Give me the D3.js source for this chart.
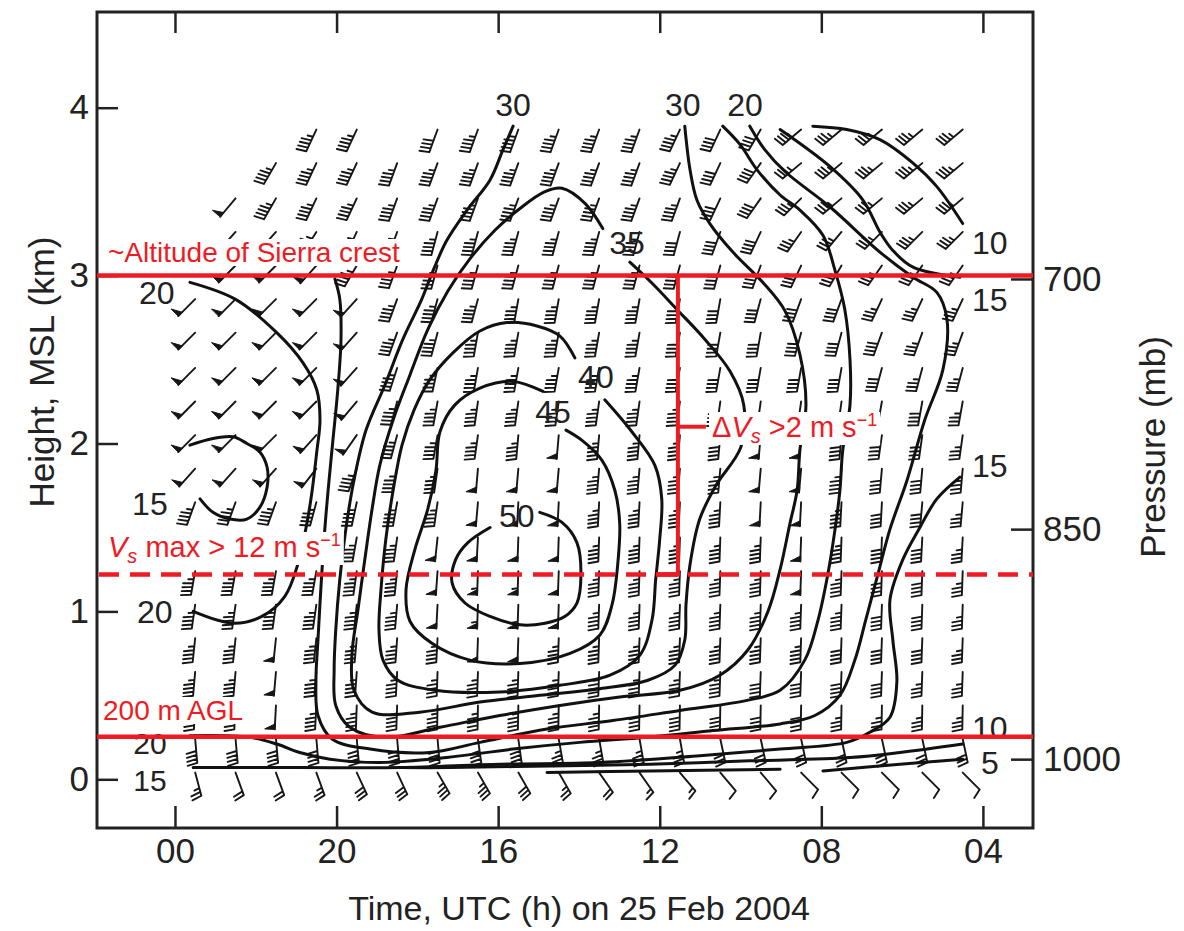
<!DOCTYPE html>
<html><head><meta charset="utf-8">
<script src="https://cdn.jsdelivr.net/npm/d3@7"></script>
<style>body{margin:0;background:#fff}svg{display:block}</style>
</head><body>
<svg id="c" width="1184" height="931"></svg>
<script>
// ---------- axes / ticks ----------
const timeTicks = [0, 4, 8, 12, 16, 20];            // hours before 00 UTC
const timeTickLabels = ["00", "20", "16", "12", "08", "04"];
const heightTicks = [0, 1, 2, 3, 4];                 // km MSL
const pressureTicks = [700, 850, 1000];              // mb
const pressureHeights = [2.98, 1.49, 0.12];          // km where pressure ticks sit

// ---------- wind barbs (knots, direction from) ----------
const barbHours = [0.5,1.5,2.5,3.5,4.5,5.5,6.5,7.5,8.5,9.5,10.5,11.5,12.5,13.5,14.5,15.5,16.5,17.5,18.5,19.5];
const barbHeights = [3.87,3.67,3.46,3.26,3.06,2.86,2.66,2.45,2.25,2.05,1.85,1.65,1.44,1.24,1.04,0.84,0.64,0.44,0.24,0.04];
const n = null;
const speedRows = [
 [n,n,n,45,45,n,40,45,45,45,45,45,45,40,40,35,35,35,35,35],
 [n,n,45,45,45,45,45,45,45,45,45,45,45,40,40,35,35,35,35,35],
 [n,50,45,45,45,45,45,45,45,45,45,45,45,40,40,35,35,35,35,35],
 [n,50,50,45,45,45,45,45,45,45,45,45,40,40,40,35,35,35,35,35],
 [n,50,50,50,45,45,45,45,45,45,45,45,40,40,40,40,35,35,35,35],
 [50,50,50,50,50,45,45,45,45,45,45,45,40,40,40,40,40,35,35,35],
 [50,50,50,50,50,45,45,45,45,45,45,45,40,40,40,40,40,40,35,35],
 [50,50,50,50,50,45,45,45,45,45,45,45,40,40,40,40,40,40,35,35],
 [50,50,50,50,50,45,45,45,45,45,45,45,45,40,40,40,40,40,40,35],
 [50,50,50,50,50,45,45,45,45,50,45,45,45,45,50,50,40,40,40,35],
 [50,50,50,50,45,45,45,50,50,50,45,45,45,45,50,50,45,40,40,35],
 [45,45,45,45,45,45,45,50,50,50,45,45,45,45,50,50,45,40,40,35],
 [45,45,45,45,45,45,50,50,50,50,45,45,45,45,45,50,45,40,40,35],
 [45,45,45,45,45,45,50,55,55,50,45,45,45,45,45,50,45,40,40,35],
 [45,45,45,45,45,45,50,55,55,50,45,45,45,45,45,45,45,40,40,35],
 [45,45,50,45,45,45,45,50,50,45,45,45,45,45,45,45,40,40,40,35],
 [45,45,50,45,45,45,45,45,45,45,45,45,45,45,40,40,40,40,35,35],
 [45,45,50,45,45,45,45,45,45,45,45,40,40,40,40,40,35,35,35,35],
 [40,40,40,40,40,40,40,40,40,35,35,35,35,30,30,30,30,30,30,30],
 [25,20,20,25,30,30,35,35,30,25,20,15,15,10,10,10,10,10,10,10]
];
const dirRows = [
 [n,n,n,205,205,n,200,200,200,200,200,200,205,205,210,230,230,230,230,230],
 [n,n,210,205,205,200,200,200,200,200,200,200,205,205,215,230,230,230,230,230],
 [n,220,210,205,205,200,200,200,200,200,200,200,200,205,215,225,230,230,230,230],
 [n,222,222,212,205,200,195,195,195,195,195,195,195,200,205,215,220,225,225,225],
 [n,225,225,222,210,200,195,195,195,195,195,195,195,195,200,205,210,215,215,215],
 [225,225,225,225,222,200,195,195,190,190,190,190,190,190,195,200,200,205,205,205],
 [225,225,225,225,222,200,195,190,190,190,190,190,190,190,190,195,195,200,200,200],
 [225,225,225,225,222,198,192,190,190,190,190,190,190,190,190,190,190,195,195,195],
 [225,225,225,225,220,195,190,188,188,188,188,188,188,188,188,188,188,190,190,190],
 [225,225,225,222,215,195,190,188,185,185,185,185,185,185,185,185,185,188,188,188],
 [222,222,222,218,200,192,188,185,185,185,185,185,185,185,185,185,185,185,185,185],
 [200,200,200,195,192,190,188,185,183,183,183,183,183,183,183,183,183,183,185,185],
 [195,195,195,192,190,188,186,183,182,182,182,182,182,182,182,182,182,182,183,183],
 [190,190,190,190,188,186,184,182,182,182,182,182,182,182,182,182,182,182,182,182],
 [188,188,188,188,186,185,183,182,182,182,182,182,182,182,182,182,182,182,182,182],
 [186,186,186,186,185,184,183,182,182,182,182,182,182,182,182,182,182,182,182,182],
 [185,185,185,185,184,183,182,182,182,182,182,182,182,182,182,182,182,182,182,182],
 [183,183,183,183,182,182,181,181,181,181,181,181,181,181,181,181,181,181,181,181],
 [175,175,175,175,175,175,175,172,172,170,170,170,170,168,168,168,168,168,168,168],
 [165,160,160,160,155,155,150,150,150,150,145,145,140,140,140,135,135,135,135,135]
];

// ---------- isotachs [hour, km] ----------
const c50 = [[9.03,1.59],[9.58,1.53],[9.95,1.41],[10.05,1.22],[9.95,1.05],[9.65,0.97],[9.16,0.93],[8.54,0.92],[7.80,0.97],[7.18,1.05],[6.86,1.17],[6.95,1.31],[7.25,1.41],[7.80,1.50]];
const c45 = [[9.11,2.31],[8.37,2.37],[7.55,2.33],[6.93,2.23],[6.56,2.07],[6.46,1.84],[6.26,1.61],[5.94,1.37],[5.72,1.13],[5.82,0.94],[6.36,0.81],[7.30,0.71],[8.54,0.69],[9.78,0.75],[10.52,0.86],[10.82,1.04],[10.96,1.28],[11.01,1.52],[10.89,1.72],[10.57,1.90],[10.07,2.02],[9.68,2.08]];
const c40 = [[9.90,2.51],[9.53,2.64],[8.96,2.70],[8.22,2.72],[7.55,2.67],[6.88,2.54],[6.31,2.38],[5.92,2.20],[5.62,1.99],[5.40,1.72],[5.22,1.43],[5.10,1.13],[5.05,0.89],[5.15,0.71],[5.52,0.59],[6.44,0.53],[8.04,0.52],[9.53,0.56],[10.77,0.62],[11.51,0.74],[11.81,0.95],[11.90,1.19],[12.00,1.43],[12.05,1.67],[11.88,1.87],[11.31,2.07],[10.64,2.26]];
const c35 = [[10.59,3.28],[10.15,3.43],[9.58,3.52],[9.16,3.50],[8.54,3.40],[7.92,3.27],[7.30,3.10],[6.76,2.91],[6.26,2.68],[5.82,2.41],[5.40,2.14],[5.07,1.87],[4.88,1.61],[4.70,1.31],[4.53,1.01],[4.38,0.74],[4.43,0.53],[4.88,0.40],[6.06,0.40],[7.55,0.46],[9.03,0.50],[10.52,0.54],[11.71,0.59],[12.38,0.68],[12.62,0.83],[12.65,1.04],[12.75,1.28],[12.99,1.55],[13.39,1.75],[14.01,1.98],[14.08,2.23],[13.74,2.43],[13.12,2.62],[12.42,2.80],[11.83,2.95],[11.26,3.08]];
const c30 = [[8.37,3.89],[8.12,3.75],[7.80,3.57],[7.23,3.39],[6.73,3.21],[6.39,3.03],[6.11,2.86],[5.64,2.62],[5.20,2.35],[4.73,2.08],[4.43,1.78],[4.23,1.49],[4.08,1.19],[3.98,0.89],[3.94,0.65],[3.98,0.44],[4.33,0.31],[5.20,0.25],[6.56,0.31],[8.04,0.38],[9.53,0.44],[11.01,0.49],[12.50,0.53],[13.49,0.62],[14.18,0.77],[14.68,1.00],[14.98,1.25],[15.22,1.52],[15.40,1.72],[15.47,1.96],[15.62,2.23],[15.47,2.53],[15.10,2.79],[14.55,2.96],[13.81,3.14],[13.24,3.31],[12.92,3.45],[12.75,3.63],[12.62,3.89]];
const c25 = [[3.96,2.98],[4.08,2.86],[4.11,2.62],[4.03,2.32],[3.91,2.02],[3.79,1.72],[3.69,1.43],[3.61,1.13],[3.54,0.83],[3.49,0.59],[3.54,0.38],[3.89,0.24],[4.83,0.18],[6.31,0.16],[7.55,0.22],[9.21,0.30],[10.84,0.35],[12.50,0.41],[14.16,0.47],[14.98,0.53],[15.59,0.71],[15.92,0.95],[16.16,1.22],[16.34,1.49],[16.46,1.72],[16.53,1.96],[16.71,2.23],[16.71,2.50],[16.58,2.80],[16.34,3.03],[16.04,3.24],[15.47,3.39],[14.98,3.48],[14.41,3.63],[13.99,3.78],[13.56,3.89]];
const c20 = [[14.23,3.89],[14.60,3.75],[15.10,3.62],[16.21,3.41],[17.45,3.14],[18.27,2.99],[18.86,2.90],[19.11,2.74],[19.01,2.44],[18.56,2.14],[18.12,1.78],[17.70,1.49],[17.40,1.22],[17.10,0.95],[16.83,0.71],[16.46,0.50],[15.84,0.38],[14.98,0.33],[13.32,0.29],[11.68,0.25],[10.02,0.22],[8.37,0.18],[6.73,0.13],[5.07,0.10],[3.84,0.12],[3.09,0.16],[2.52,0.21],[1.86,0.25],[0.37,0.26]];
const c20C = [[0.37,2.96],[1.49,2.86],[2.52,2.66],[3.17,2.48],[3.51,2.32],[3.59,2.14],[3.51,1.95],[3.39,1.71],[3.27,1.53],[3.04,1.28],[2.72,1.09],[2.15,0.97],[1.44,0.93],[0.45,1.00]];
const c15L = [[0.37,1.99],[0.94,2.03],[1.44,2.04],[1.78,2.00],[2.10,1.95],[2.28,1.86],[2.28,1.74],[2.10,1.62],[1.78,1.55],[1.36,1.55],[0.94,1.59],[0.62,1.67]];
const c15T = [[14.98,3.87],[16.21,3.65],[17.03,3.45],[17.45,3.26],[17.77,3.15],[18.27,3.05],[19.43,2.99]];
const c10T = [[15.79,3.89],[16.63,3.87],[17.45,3.81],[18.27,3.67],[18.86,3.53],[19.50,3.31]];
const c15B = [[19.43,1.80],[18.86,1.67],[18.44,1.50],[18.02,1.31],[17.70,1.07],[17.77,0.83],[17.87,0.58],[17.70,0.37],[17.20,0.28],[16.63,0.22],[14.98,0.18],[12.99,0.14],[10.52,0.10],[8.04,0.09],[5.57,0.07],[3.09,0.07],[0.45,0.07]];
const c10B = [[19.50,0.21],[17.95,0.16],[16.71,0.13],[14.23,0.11],[11.76,0.09],[9.28,0.08],[6.81,0.07],[5.57,0.07]];
const c5a = [[19.50,0.12],[17.95,0.09],[16.04,0.05]];
const c5b = [[14.98,0.06],[11.76,0.05],[9.21,0.04]];
const contourLines = [c50,c45,c40,c35,c30,c25,c20,c20C,c15L,c15T,c10T,c15B,c10B,c5a,c5b];

const contourLabelText = ["50","45","40","35","30","30","20","20","20","20","15","15","15","15","10","10","5"];
const contourLabelPos = [[8.46,1.57],[9.36,2.19],[10.42,2.40],[11.19,3.20],[8.37,4.02],[12.57,4.02],[14.11,4.02],[-0.45,2.90],[-0.50,1.00],[-0.62,0.217],[-0.62,1.64],[20.17,2.86],[20.17,1.87],[-0.62,-0.003],[20.17,3.20],[20.17,0.31],[20.17,0.10]];
const contourLabelSize = [32,32,32,32,32,32,32,32,32,30,32,32,32,30,32,32,32];

// ---------- reference lines ----------
const crestHeight = 3.0, vsMaxHeight = 1.22, aglHeight = 0.253;
const shearHour = 12.45, shearLabelHeight = 2.10;

// ---------- drawing ----------
const svg = d3.select("#c");
const FONT = "'Liberation Sans', Arial, Helvetica, sans-serif";
const RED = "#ee1b24";
const x = d3.scaleLinear().domain([-1.93, 21.24]).range([97, 1033]);
const y = d3.scaleLinear().domain([-0.29, 4.57]).range([828, 12]);

// barbs
const gB = svg.append("g").attr("stroke", "#161616").attr("fill", "#161616")
  .attr("stroke-width", 1.9).attr("stroke-linecap", "round");
function drawBarb(cx, cy, spd, dir) {
  const r = dir * Math.PI / 180;
  const ux = Math.sin(r), uy = -Math.cos(r);
  const px = -uy, py = ux;
  const L = 24, T = 10, gap = 4, a = 12 * Math.PI / 180;
  const bx = px * Math.cos(a) + ux * Math.sin(a), by = py * Math.cos(a) + uy * Math.sin(a);
  let s = Math.round(spd / 5) * 5;
  const pen = Math.floor(s / 50); s -= pen * 50;
  const full = Math.floor(s / 10); s -= full * 10;
  const half = s >= 5;
  const tx = cx + ux * L, ty = cy + uy * L;
  const pt = d => [tx - ux * d, ty - uy * d];
  let path = `M${cx},${cy}L${tx},${ty}`;
  let d = 0;
  for (let i = 0; i < pen; i++) {
    const p0 = pt(d), p1 = pt(d + 5.5);
    gB.append("path").attr("stroke-width", 1)
      .attr("d", `M${p0[0]},${p0[1]}L${p0[0] + px * T},${p0[1] + py * T}L${p1[0]},${p1[1]}Z`);
    d += 7;
  }
  for (let i = 0; i < full; i++) {
    const p0 = pt(d);
    path += `M${p0[0]},${p0[1]}l${bx * T},${by * T}`;
    d += gap;
  }
  if (half) {
    if (pen === 0 && full === 0) d = gap;
    const p0 = pt(d);
    path += `M${p0[0]},${p0[1]}l${bx * T * 0.55},${by * T * 0.55}`;
  }
  gB.append("path").attr("fill", "none").attr("d", path);
}
barbHeights.forEach((z, ri) => {
  barbHours.forEach((h, ci) => {
    const s = speedRows[ri][ci], dd = dirRows[ri][ci];
    if (s == null || dd == null) return;
    drawBarb(x(h), y(z), s, dd);
  });
});

// isotachs
const line = d3.line().x(d => x(d[0])).y(d => y(d[1])).curve(d3.curveCatmullRom.alpha(0.5));
svg.append("g").selectAll("path").data(contourLines).join("path")
  .attr("d", line).attr("fill", "none").attr("stroke", "#111")
  .attr("stroke-width", 3).attr("stroke-linejoin", "round").attr("stroke-linecap", "round");

svg.append("g").selectAll("text").data(contourLabelPos).join("text")
  .attr("x", d => x(d[0])).attr("y", d => y(d[1]))
  .attr("dy", "0.36em").attr("text-anchor", "middle")
  .attr("font-family", FONT).attr("font-size", (d, i) => contourLabelSize[i]).attr("fill", "#222")
  .text((d, i) => contourLabelText[i]);

// frame + axes
const axG = svg.append("g").attr("font-family", FONT);
function styleAxis(g) {
  g.select(".domain").remove();
  g.selectAll(".tick line").attr("stroke", "#222").attr("stroke-width", 2.5);
  g.selectAll(".tick text").attr("font-family", FONT).attr("font-size", 35).attr("fill", "#222");
}
axG.append("g").attr("transform", `translate(0,828)`)
  .call(d3.axisBottom(x).tickValues(timeTicks).tickFormat((d, i) => timeTickLabels[i]).tickSize(-22).tickPadding(10))
  .call(styleAxis);
axG.append("g").attr("transform", `translate(0,12)`)
  .call(d3.axisTop(x).tickValues(timeTicks).tickFormat("").tickSize(-21))
  .call(styleAxis);
axG.append("g").attr("transform", `translate(97,0)`)
  .call(d3.axisLeft(y).tickValues(heightTicks).tickFormat(d3.format("d")).tickSize(-21).tickPadding(8))
  .call(styleAxis);
axG.append("g").attr("transform", `translate(1033,0)`)
  .call(d3.axisRight(y).tickValues(pressureHeights).tickFormat((d, i) => pressureTicks[i]).tickSize(-22).tickPadding(10))
  .call(styleAxis);
svg.append("rect").attr("x", x.range()[0]).attr("y", y.range()[1])
  .attr("width", x.range()[1] - x.range()[0]).attr("height", y.range()[0] - y.range()[1])
  .attr("fill", "none").attr("stroke", "#222").attr("stroke-width", 3);

svg.append("text").attr("x", 579).attr("y", 920).attr("text-anchor", "middle")
  .attr("font-family", FONT).attr("font-size", 34).attr("fill", "#222")
  .text("Time, UTC (h) on 25 Feb 2004");
svg.append("text").attr("transform", "translate(54,372) rotate(-90)").attr("text-anchor", "middle")
  .attr("font-family", FONT).attr("font-size", 35).attr("fill", "#222")
  .text("Height, MSL (km)");
svg.append("text").attr("transform", "translate(1165,447) rotate(-90)").attr("text-anchor", "middle")
  .attr("font-family", FONT).attr("font-size", 35).attr("fill", "#222")
  .text("Pressure (mb)");

// red annotations
const gR = svg.append("g");
function boxedText(parts, tx, ty, size) {
  const g = gR.append("g");
  const t = g.append("text").attr("x", tx).attr("y", ty).attr("font-family", FONT)
    .attr("font-size", size).attr("fill", RED);
  parts.forEach(p => {
    const s = t.append("tspan").text(p.t);
    if (p.i) s.attr("font-style", "italic");
    if (p.fs) s.attr("font-size", p.fs);
    if (p.dy) s.attr("dy", p.dy);
  });
  const bb = t.node().getBBox();
  g.insert("rect", "text").attr("x", bb.x - 3).attr("y", bb.y + 2).attr("width", bb.width + 6)
    .attr("height", bb.height - 4).attr("fill", "#fff");
}
boxedText([{t: "~Altitude of Sierra crest"}], 108, 262, 28);
boxedText([{t: "V", i: 1}, {t: "s", i: 1, fs: 20, dy: 6}, {t: " max > 12 m s", dy: -6}, {t: "\u22121", fs: 18, dy: -11}], 108, 557, 29);
boxedText([{t: "200 m AGL"}], 103, 720, 28);

gR.append("line").attr("x1", x.range()[0]).attr("x2", x.range()[1])
  .attr("y1", y(crestHeight)).attr("y2", y(crestHeight)).attr("stroke", RED).attr("stroke-width", 4.5);
gR.append("line").attr("x1", x.range()[0]).attr("x2", x.range()[1])
  .attr("y1", y(aglHeight)).attr("y2", y(aglHeight)).attr("stroke", RED).attr("stroke-width", 4.5);
gR.append("line").attr("x1", x.range()[0] + 2).attr("x2", x.range()[1])
  .attr("y1", y(vsMaxHeight)).attr("y2", y(vsMaxHeight)).attr("stroke", RED).attr("stroke-width", 4.5)
  .attr("stroke-dasharray", "20,11");
gR.append("line").attr("x1", x(shearHour) - 22).attr("x2", x(shearHour))
  .attr("y1", y(vsMaxHeight)).attr("y2", y(vsMaxHeight)).attr("stroke", RED).attr("stroke-width", 4.5);
gR.append("line").attr("x1", x(shearHour)).attr("x2", x(shearHour))
  .attr("y1", y(crestHeight)).attr("y2", y(vsMaxHeight) + 2).attr("stroke", RED).attr("stroke-width", 4);
boxedText([{t: "\u0394"}, {t: "V", i: 1}, {t: "s", i: 1, fs: 20, dy: 6}, {t: " >2 m s", dy: -6}, {t: "\u22121", fs: 18, dy: -11}], 712, 437, 29);
gR.append("line").attr("x1", x(shearHour)).attr("x2", x(shearHour) + 28)
  .attr("y1", y(shearLabelHeight)).attr("y2", y(shearLabelHeight)).attr("stroke", RED).attr("stroke-width", 4);
</script>
</body></html>
